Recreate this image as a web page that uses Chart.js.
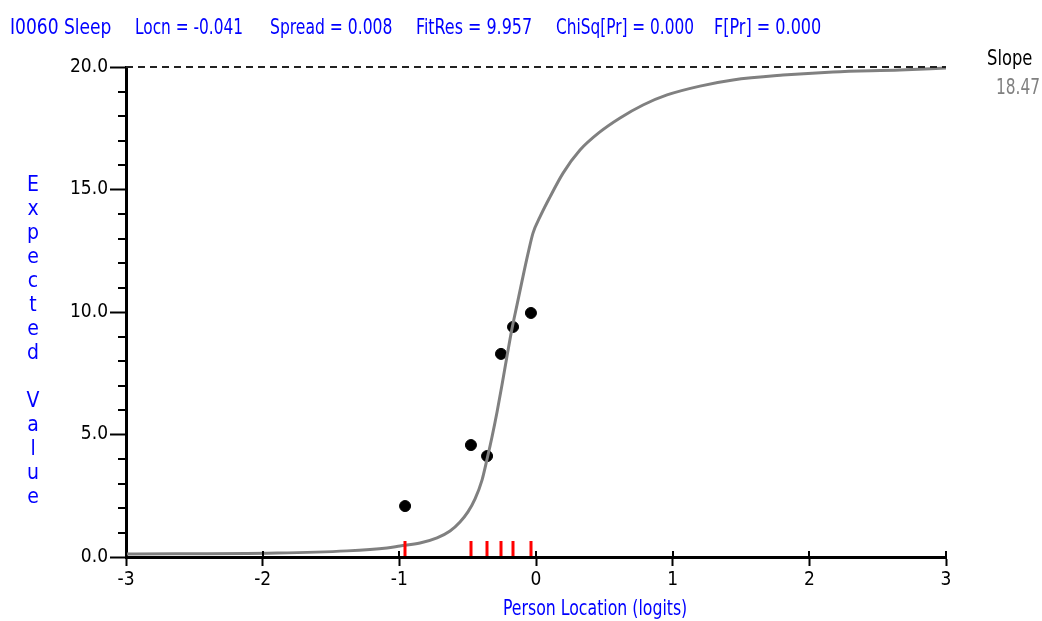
<!DOCTYPE html>
<html>
<head>
<meta charset="utf-8">
<script src="https://cdn.jsdelivr.net/npm/chart.js@4/dist/chart.umd.min.js"></script>
<style>
  html, body { margin: 0; padding: 0; background: #fff; }
  #wrap { position: relative; width: 1042px; height: 621px; overflow: hidden; }
  canvas { position: absolute; left: 0; top: 0; }
  .t { position: absolute; font-family: "Liberation Sans Narrow", "DejaVu Sans Condensed", "Liberation Sans", sans-serif; font-size: 21px; line-height: 21px; white-space: nowrap; transform-origin: 0 0; }
  .h { font-size: 22px; line-height: 22px; }
  .blue { color: #0000ff; }
</style>
</head>
<body>
<div id="wrap">
  <canvas id="c" width="1042" height="621"></canvas>
  <div class="t h blue" data-w="101" style="left:10px;top:16px">I0060 Sleep</div>
  <div class="t h blue" data-w="108" style="left:135px;top:16px">Locn = -0.041</div>
  <div class="t h blue" data-w="122" style="left:270px;top:16px">Spread = 0.008</div>
  <div class="t h blue" data-w="116" style="left:416px;top:16px">FitRes = 9.957</div>
  <div class="t h blue" data-w="138" style="left:556px;top:16px">ChiSq[Pr] = 0.000</div>
  <div class="t h blue" data-w="107" style="left:714px;top:16px">F[Pr] = 0.000</div>
  <div class="t" data-w="45" style="left:987px;top:48px;color:#000">Slope</div>
  <div class="t" data-w="44" style="left:996px;top:77px;color:#808080">18.47</div>
  <div class="t blue" id="ylab" style="left:23px;top:172px;width:20px;text-align:center;line-height:24px"></div>
  <div class="t blue" data-w="184" style="left:503px;top:598px">Person Location (logits)</div>
</div>
<script>
// ---- data ----
const curveX = [-3.0, -1.895, -1.383, -1.09, -0.995, -0.849, -0.724, -0.629, -0.556, -0.498, -0.446, -0.395, -0.358, -0.322, -0.285, -0.249, -0.212, -0.176, -0.139, -0.102, -0.059, -0.022, 0.029, 0.102, 0.198, 0.322, 0.468, 0.615, 0.783, 0.959, 1.2, 1.441, 1.807, 2.173, 2.663, 3.0];
const curveY = [0.12, 0.16, 0.25, 0.37, 0.45, 0.57, 0.78, 1.06, 1.43, 1.84, 2.37, 3.14, 4.00, 4.90, 5.92, 7.02, 8.20, 9.31, 10.29, 11.27, 12.37, 13.22, 13.88, 14.69, 15.67, 16.61, 17.35, 17.92, 18.45, 18.86, 19.22, 19.47, 19.67, 19.80, 19.88, 19.96];
const obsX = [-0.958, -0.476, -0.358, -0.256, -0.168, -0.037];
const obsY = [2.08, 4.57, 4.12, 8.29, 9.39, 9.96];
const maxScore = 20;
const xTicks = [-3, -2, -1, 0, 1, 2, 3];
const yTicks = [0, 5, 10, 15, 20];
const yMinorTicks = [1,2,3,4,6,7,8,9,11,12,13,14,16,17,18,19];
const yTitleLetters = ['E','x','p','e','c','t','e','d','','V','a','l','u','e'];

document.getElementById('ylab').innerHTML = yTitleLetters.map(c => c === '' ? '&nbsp;' : c).join('<br>');
document.querySelectorAll('[data-w]').forEach(el => {
  const w = el.offsetWidth;
  const target = parseFloat(el.getAttribute('data-w'));
  if (w > 0) el.style.transform = 'scaleX(' + (target / w) + ')';
});

const FONT = '"Liberation Sans Narrow", "DejaVu Sans Condensed", "Liberation Sans", sans-serif';

const extras = {
  id: 'extras',
  afterDraw(chart) {
    const ctx = chart.ctx, xs = chart.scales.x, ys = chart.scales.y;
    const left = chart.chartArea.left, bottom = chart.chartArea.bottom;
    ctx.save();
    ctx.strokeStyle = '#000';
    ctx.lineWidth = 2;
    ctx.beginPath();
    yMinorTicks.forEach(v => {
      const y = Math.round(ys.getPixelForValue(v));
      ctx.moveTo(left - 8, y); ctx.lineTo(left, y);
    });
    xTicks.forEach(v => {
      const x = Math.round(xs.getPixelForValue(v));
      ctx.moveTo(x, bottom); ctx.lineTo(x, bottom - 6);
    });
    ctx.stroke();
    ctx.strokeStyle = '#ff0000';
    ctx.lineWidth = 3;
    ctx.beginPath();
    obsX.forEach(v => {
      const x = Math.round(xs.getPixelForValue(v));
      ctx.moveTo(x, bottom - 1); ctx.lineTo(x, bottom - 16);
    });
    ctx.stroke();
    ctx.restore();
  }
};

new Chart(document.getElementById('c'), {
  type: 'scatter',
  data: {
    datasets: [
      {
        label: 'Max',
        data: [{x: xTicks[0], y: maxScore}, {x: xTicks[xTicks.length - 1], y: maxScore}],
        showLine: true, borderColor: '#222', borderWidth: 2, borderDash: [7, 5],
        pointRadius: 0, clip: false
      },
      {
        label: 'ICC',
        data: curveX.map((x, i) => ({x, y: curveY[i]})),
        showLine: true, borderColor: '#808080', borderWidth: 3,
        pointRadius: 0, cubicInterpolationMode: 'monotone', clip: false
      },
      {
        label: 'Observed',
        data: obsX.map((x, i) => ({x, y: obsY[i]})),
        pointRadius: 5.5, backgroundColor: '#000', borderColor: '#000', borderWidth: 1
      }
    ]
  },
  options: {
    responsive: false,
    animation: false,
    devicePixelRatio: 1,
    layout: { padding: { top: 67, right: 96, left: 0, bottom: 0 } },
    plugins: { legend: { display: false }, tooltip: { enabled: false } },
    scales: {
      x: {
        type: 'linear', min: -3, max: 3,
        afterBuildTicks: s => { s.ticks = xTicks.map(v => ({value: v})); },
        afterFit: s => { s.height = 64; },
        ticks: { callback: v => String(v), color: '#000', font: { family: FONT, size: 19 }, padding: 3, maxRotation: 0, autoSkip: false },
        grid: { drawOnChartArea: false, tickLength: 9, tickWidth: 2, tickColor: '#000' },
        border: { color: '#000', width: 3 }
      },
      y: {
        type: 'linear', min: 0, max: 20,
        afterBuildTicks: s => { s.ticks = yTicks.map(v => ({value: v})); },
        afterFit: s => { s.width = 126; },
        ticks: { callback: v => Number(v).toFixed(1), color: '#000', font: { family: FONT, size: 19 }, padding: 2 },
        grid: { drawOnChartArea: false, tickLength: 16, tickWidth: 2, tickColor: '#000' },
        border: { color: '#000', width: 3 }
      }
    }
  },
  plugins: [extras]
});
</script>
</body>
</html>
